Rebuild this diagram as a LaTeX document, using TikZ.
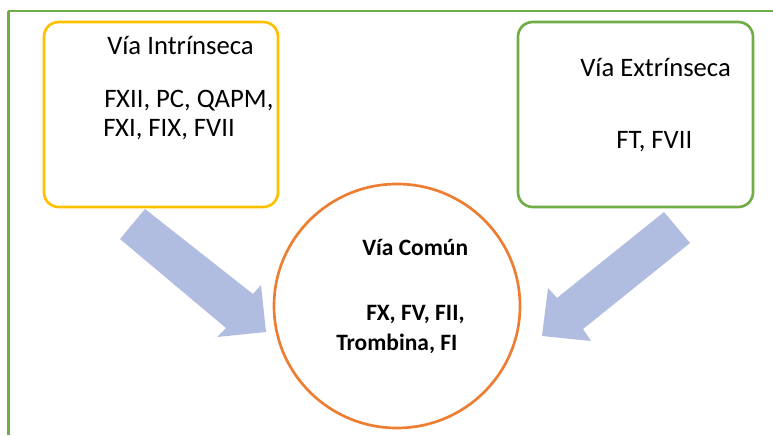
\documentclass[tikz,border=0pt]{standalone}
\usepackage{fontspec}
\setmainfont{Carlito}
\definecolor{frameGreen}{RGB}{112,173,71}
\definecolor{boxYellow}{RGB}{255,192,0}
\definecolor{ringOrange}{RGB}{237,125,49}
\definecolor{arrowBlue}{RGB}{176,188,224}
\tikzset{
  via/.style={anchor=base west,inner sep=0pt,font=\fontsize{20}{24}\selectfont},
  comun/.style={anchor=base west,inner sep=0pt,font=\fontsize{17.6}{21}\selectfont\bfseries},
}
\begin{document}
\begin{tikzpicture}[x=0.75pt,y=0.75pt,yscale=-1]
\useasboundingbox (0,0) rectangle (773,435);

%Frame
\draw [frameGreen,line width=1.1]    (8,11) -- (773,11) ;
\draw [frameGreen,line width=1.6]    (8.5,11) -- (8.5,435) ;

%Shape: Rounded Rect
\draw [boxYellow,line width=2,rounded corners=11]  (44,22) rectangle (278,207) ;
%Shape: Rounded Rect
\draw [frameGreen,line width=2,rounded corners=11]  (518,22) rectangle (753,207) ;
%Shape: Ellipse
\draw [ringOrange,line width=2]  (397,306) ellipse [x radius=123, y radius=122] ;

%Shape: Block Arrow
\fill [arrowBlue]  (145,209) -- (253,294) -- (261,285) -- (266,332) -- (217,337) -- (226,328) -- (120,239) -- cycle ;
%Shape: Block Arrow
\fill [arrowBlue]  (664,212) -- (690,243) -- (583,329) -- (591,341) -- (542,336) -- (548,288) -- (557,298) -- cycle ;

% Text Node
\node (intrtitle) [via] at (107,55) {Vía Intrínseca};
% Text Node
\node (intrlist) [via] at (104,107) {FXII, PC, QAPM,};
% Text Node
\node (intrlisttwo) [via] at (103,136) {FXI, FIX, FVII};
% Text Node
\node (extrtitle) [via] at (580,76) {Vía Extrínseca};
% Text Node
\node (extrlist) [via] at (616,148) {FT, FVII};
% Text Node
\node (comuntitle) [comun] at (362,255) {Vía Común};
% Text Node
\node (comunlist) [comun] at (366,320) {FX, FV, FII,};
% Text Node
\node (comunlisttwo) [comun] at (336,350) {Trombina, FI};

\end{tikzpicture}
\end{document}
